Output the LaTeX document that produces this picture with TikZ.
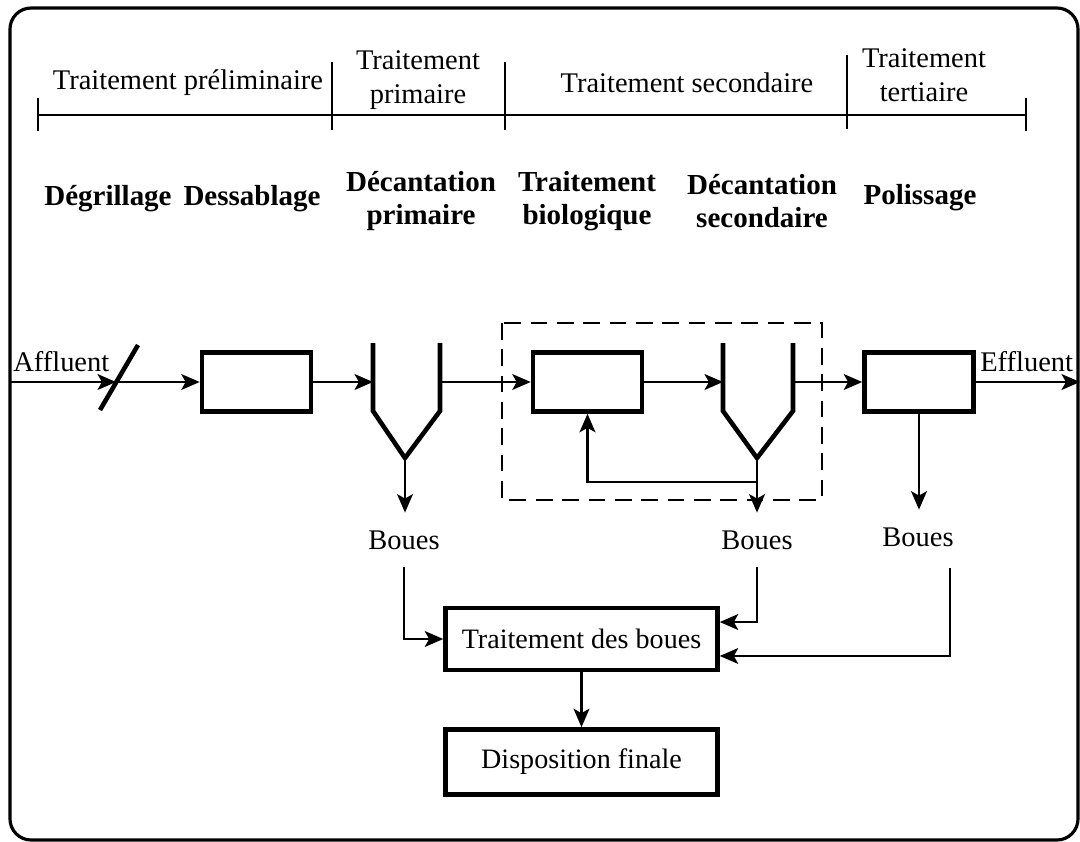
\documentclass[tikz,border=0pt]{standalone}
\usepackage{fontspec}
\setmainfont{Liberation Serif}
\usetikzlibrary{arrows.meta}
\begin{document}
\begin{tikzpicture}[x=0.02cm,y=-0.02cm,
  arr/.style={line width=1.4pt,-{Stealth[length=10.5pt,width=9pt,inset=2.5pt]}},
  unit/.style={draw,line width=2.6pt,minimum width=2.18cm,minimum height=1.18cm,inner sep=0pt},
  sunit/.style={draw,line width=2.6pt,minimum width=5.44cm,inner sep=0pt,font=\fontsize{16}{19}\selectfont},
  settler/.style={line width=2.6pt,line join=miter},
  lbl/.style={font=\fontsize{16.2}{19.5}\selectfont,align=center,inner sep=0pt},
  blbl/.style={font=\fontsize{16.5}{18.5}\selectfont\bfseries,align=center,inner sep=0pt},
  tickline/.style={line width=1.4pt},
  boues/.style={font=\fontsize{16.2}{19}\selectfont,inner sep=10pt}
]
\useasboundingbox (0,0) rectangle (1080,842);
\draw[line width=1.8pt,rounded corners=12pt] (10,8) rectangle (1078,840);

% timeline
\draw[tickline] (38,115) -- (1026,115);
\draw[tickline] (38,98) -- (38,131);
\draw[tickline] (332,62) -- (332,130);
\draw[tickline] (505,62) -- (505,130);
\draw[tickline] (847,55) -- (847,129);
\draw[tickline] (1026,98) -- (1026,131);
\node[lbl] (h1) at (188,83) {Traitement préliminaire};
\node[lbl] (h2) at (418,80) {Traitement\\primaire};
\node[lbl] (h3) at (687,83) {Traitement secondaire};
\node[lbl] (h4) at (924,75) {Traitement\\tertiaire};

% step labels
\node[blbl] (d1) at (108,199) {Dégrillage};
\node[blbl] (d2) at (252,199) {Dessablage};
\node[blbl] (d3) at (421,201) {Décantation\\primaire};
\node[blbl] (d4) at (587,201) {Traitement\\biologique};
\node[blbl] (d5) at (762,201) {Décantation\\secondaire};
\node[blbl] (d6) at (920,198) {Polissage};

% process line
\node[lbl,anchor=base west] (aff) at (13,371) {Affluent};
\node[lbl,anchor=base west] (eff) at (980,371) {Effluent};
\coordinate (in) at (10,382);
\coordinate (out) at (1080,382);
\coordinate (slc) at (116,382);
\draw[line width=2.6pt] (100,410) -- (138,345);

\node[unit] (b1) at (256.5,382) {};
\node[unit] (b2) at (587.5,382) {};
\node[unit] (b3) at (919,382) {};

% settlers
\draw[settler] (373,343) -- (373,411) -- (405,458) -- (440,411) -- (440,343);
\draw[settler] (723,343) -- (723,411) -- (757,458) -- (793,411) -- (793,343);
\coordinate (s1l) at (373,382);
\coordinate (s1r) at (440,382);
\coordinate (s1b) at (405,458);
\coordinate (s2l) at (723,382);
\coordinate (s2r) at (793,382);
\coordinate (s2b) at (757,458);
\coordinate (rc) at (757,482);

\draw[arr] (in) -- (slc);
\draw[arr] (slc) -- (b1.west);
\draw[arr] (b1.east) -- (s1l);
\draw[arr] (s1r) -- (b2.west);
\draw[arr] (b2.east) -- (s2l);
\draw[arr] (s2r) -- (b3.west);
\draw[arr] (b3.east) -- (out);

% dashed group
\draw[line width=1.4pt,dash pattern=on 9.5pt off 5.5pt] (502,323) rectangle (822,500);
\draw[arr] (rc) -| (b2.south);

% sludge
\node[boues] (bo1) at (404,540) {Boues};
\node[boues] (bo2) at (757,540) {Boues};
\node[boues] (bo3) at (918,537) {Boues};
\draw[arr] (s1b) -- (s1b |- bo1.north);
\draw[arr] (s2b) -- (s2b |- bo2.north);
\draw[arr] (b3.south) -- (b3.south |- bo3.north);

\node[sunit,minimum height=1.24cm] (tb) at (581.5,639) {Traitement des boues};
\node[sunit,minimum height=1.3cm] (dp) at (581.5,762) {Disposition finale};
\coordinate (b3d) at (950,568);
\draw[arr] (bo1.south) |- (tb.west);
\draw[arr] (bo2.south) |- (tb.7);
\draw[arr] (b3d) |- (tb.-7);
\draw[arr] (tb.south) -- (dp.north);
\end{tikzpicture}
\end{document}
